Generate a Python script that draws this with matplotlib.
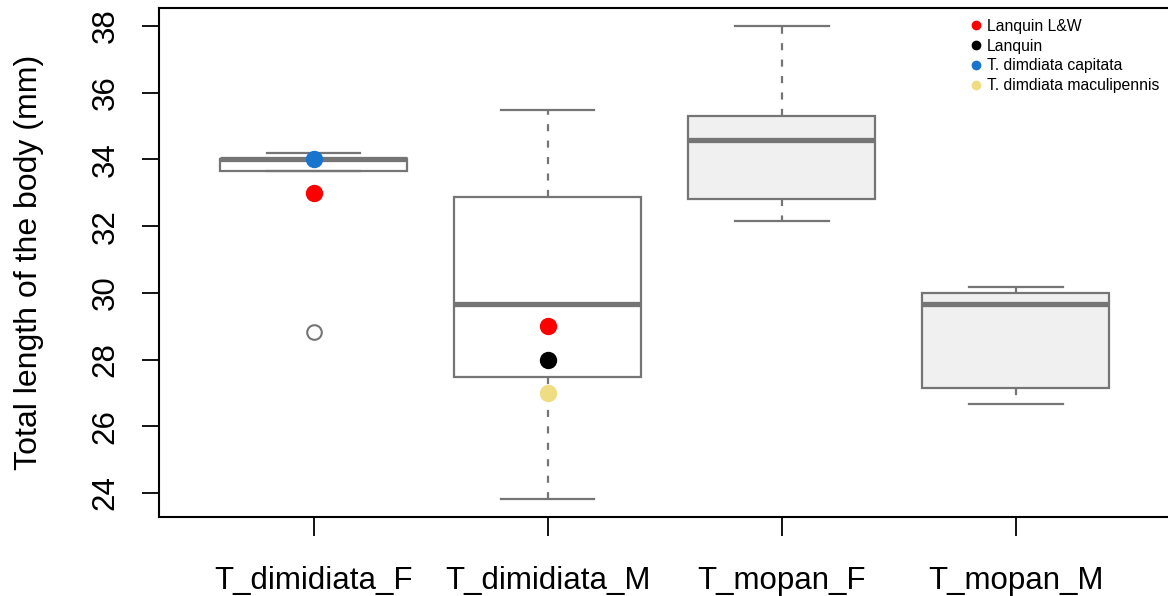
#!/usr/bin/env python3
"""
Boxplot of total body length per group, with reference specimens
"""

import matplotlib
matplotlib.use("Agg")
import matplotlib.pyplot as plt
from matplotlib.lines import Line2D

plt.rcParams['font.family'] = ['Liberation Sans', 'DejaVu Sans']

# Data (summary stats)
groups = ["T_dimidiata_F", "T_dimidiata_M", "T_mopan_F", "T_mopan_M"]
whisk_lo = [33.65, 23.82, 32.15, 26.66]
q1 = [33.65, 27.48, 32.81, 27.16]
median = [34.0, 29.67, 34.58, 29.66]
q3 = [34.0, 32.87, 35.30, 29.99]
whisk_hi = [34.19, 35.48, 38.0, 30.17]
outliers = [[28.83], [], [], []]
box_fill = ["white", "white", "#F0F0F0", "#F0F0F0"]

# reference specimens
ref_labels = ["Lanquin L&W", "Lanquin", "T. dimdiata capitata", "T. dimdiata maculipennis"]
ref_colors = ["#FF0000", "#000000", "#1874CD", "#EEDD82"]
ref_group = [[1, 2], [2], [1], [2]]
ref_value = [[33.0, 29.0], [28.0], [34.0], [27.0]]

gray = "#757575"

fig = plt.figure(figsize=(11.68, 5.96), dpi=100)
ax = fig.add_axes([159 / 1168, 79 / 596, 1.0 - 159 / 1168 + 0.002, 509 / 596])

stats = []
for i in range(len(groups)):
    stats.append({"whislo": whisk_lo[i], "q1": q1[i], "med": median[i],
                  "q3": q3[i], "whishi": whisk_hi[i], "fliers": outliers[i]})

bp = ax.bxp(stats, positions=range(1, len(groups) + 1), widths=0.8,
            patch_artist=True, showfliers=True,
            boxprops=dict(edgecolor=gray, linewidth=1.6),
            medianprops=dict(color=gray, linewidth=3.8, solid_capstyle="butt"),
            whiskerprops=dict(color=gray, linewidth=1.6, linestyle=(0, (3.2, 4.2))),
            capprops=dict(color=gray, linewidth=1.6),
            flierprops=dict(marker="o", markerfacecolor="none", markeredgecolor=gray,
                            markersize=10.5, markeredgewidth=1.5))
for patch, fc in zip(bp["boxes"], box_fill):
    patch.set_facecolor(fc)
# R staples are half the box width
for cap in bp["caps"]:
    x0, x1 = cap.get_xdata()
    c = (x0 + x1) / 2
    cap.set_xdata([c - 0.2, c + 0.2])

for lab, col, gx, gy in zip(ref_labels, ref_colors, ref_group, ref_value):
    ax.plot(gx, gy, "o", color=col, markersize=11.5, linestyle="none", zorder=5)

ax.set_xlim(0.34, 4.66)
ax.set_ylim(23.28, 38.54)
ax.set_yticks(range(24, 39, 2))
ax.set_xticks(range(1, len(groups) + 1))
ax.set_xticklabels(groups)
ax.tick_params(axis="y", labelrotation=90, length=12.5, width=1.3, labelsize=22.5, pad=15)
ax.tick_params(axis="x", length=14, width=1.3, labelsize=22.5, pad=21)
for lbl in ax.get_yticklabels():
    lbl.set_va("center")
ax.set_ylabel("Total length of the body (mm)", fontsize=23, labelpad=34)
for sp in ax.spines.values():
    sp.set_linewidth(1.5)

handles = [Line2D([], [], marker="o", color=c, linestyle="none", markersize=6)
           for c in ref_colors]
ax.legend(handles, ref_labels, loc="upper right", bbox_to_anchor=(1.0, 1.0),
          frameon=False, fontsize=11.3, handletextpad=0.2, labelspacing=0.3,
          handlelength=1.0, borderaxespad=0.3)

fig.savefig("out.png", dpi=100)
